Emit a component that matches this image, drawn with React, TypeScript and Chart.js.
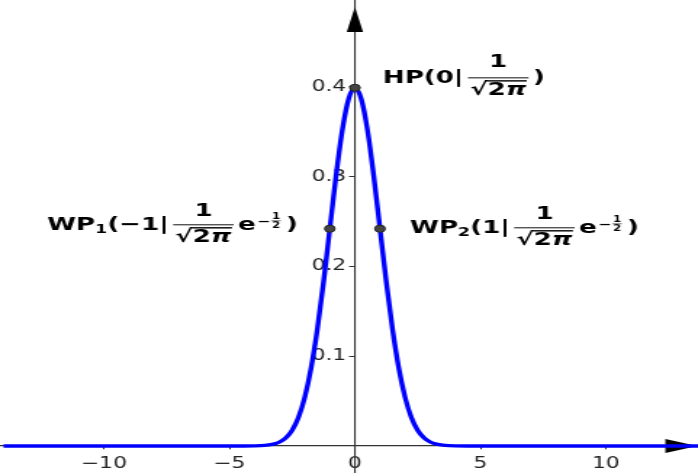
import React, { useEffect, useRef } from 'react';
import { Chart, registerables } from 'chart.js';

Chart.register(...registerables);

// ---- data ----
const curveX = [
  -14, -12, -10, -8, -6, -5, -4.5, -4, -3.75, -3.5, -3.25, -3, -2.75, -2.5, -2.25, -2, -1.75, -1.5, -1.25, -1,
  -0.75, -0.5, -0.25, 0, 0.25, 0.5, 0.75, 1, 1.25, 1.5, 1.75, 2, 2.25, 2.5, 2.75, 3, 3.25, 3.5, 3.75, 4, 4.5, 5,
  6, 8, 10, 12, 13.7,
];
const curveY = [
  0, 0, 0, 0, 0, 0, 0.000016, 0.00013, 0.00035, 0.00087, 0.00203, 0.00443, 0.00909, 0.01753, 0.03174, 0.05399,
  0.08628, 0.12952, 0.18265, 0.24197, 0.30114, 0.35207, 0.38667, 0.39894, 0.38667, 0.35207, 0.30114, 0.24197,
  0.18265, 0.12952, 0.08628, 0.05399, 0.03174, 0.01753, 0.00909, 0.00443, 0.00203, 0.00087, 0.00035, 0.00013,
  0.000016, 0, 0, 0, 0, 0, 0,
];
const markX = [0, -1, 1];
const markY = [0.39894, 0.24197, 0.24197];
const xTicks = [-10, -5, 0, 5, 10];
const yTicks = [0.1, 0.2, 0.3, 0.4];
const xRange = [-14.14, 13.67];
const yRange = [-0.0301, 0.4967];

const STRETCH = 1.45;
const OUT_W = 698;
const OUT_H = 473;
const IN_W = Math.round(OUT_W / STRETCH);

const FONT = '"DejaVu Sans", "Liberation Sans", sans-serif';

function drawLabel(
  ctx: CanvasRenderingContext2D,
  x0: number,
  base: number,
  head: string,
  sub: string | null,
  mid: string,
  exp: boolean,
  draw: boolean,
  numUp = 9
): number {
  let x = x0;
  ctx.textAlign = 'left';
  ctx.textBaseline = 'alphabetic';
  const put = (s: string, size: number, dy = 0, style = 'bold') => {
    ctx.font = `${style} ${size}px ${FONT}`;
    const w = ctx.measureText(s).width;
    if (draw) {
      ctx.fillStyle = '#000';
      ctx.fillText(s, x, base + dy);
    }
    x += w;
    return w;
  };
  put(head, 18);
  if (sub) put(sub, 12, 3);
  if (mid) put(mid, 18);
  x += 3;
  // fraction 1 / sqrt(2pi)
  ctx.font = `bold 18px ${FONT}`;
  const wRad = ctx.measureText('\u221A').width;
  const w2 = ctx.measureText('2').width;
  const wNum = ctx.measureText('1').width;
  ctx.font = `italic bold 18px ${FONT}`;
  const wPi = ctx.measureText('\u03C0').width;
  const w2p = w2 + wPi;
  const barW = wRad + w2p + 3;
  const barY = base - 5;
  if (draw) {
    ctx.fillStyle = '#000';
    ctx.font = `bold 18px ${FONT}`;
    ctx.fillText('1', x + (barW - wNum) / 2, barY - numUp);
    ctx.fillText('\u221A', x + 1.5, barY + 17);
    ctx.fillText('2', x + 1.5 + wRad, barY + 17);
    ctx.font = `italic bold 18px ${FONT}`;
    ctx.fillText('\u03C0', x + 1.5 + wRad + w2, barY + 17);
    ctx.fillRect(x + 1 + wRad, barY + 17 - 14.6, w2p + 0.8, 1.4);
    ctx.fillStyle = '#555';
    ctx.fillRect(x, barY - 0.7, barW, 1.4);
  }
  x += barW + 3;
  if (exp) {
    put('e', 18);
    x += 1;
    put('\u2212', 11, -4.5);
    x += 1;
    ctx.font = `bold 8px ${FONT}`;
    const wf = Math.max(ctx.measureText('1').width, ctx.measureText('2').width);
    if (draw) {
      ctx.fillStyle = '#000';
      ctx.fillText('1', x, base - 11);
      ctx.fillText('2', x, base - 2);
      ctx.fillStyle = '#555';
      ctx.fillRect(x - 0.5, base - 9.3, wf + 1, 0.8);
    }
    x += wf + 4;
  }
  put(')', 18);
  return x - x0;
}

const decor = {
  id: 'decor',
  beforeDatasetsDraw(chart: any) {
    const { ctx, chartArea, scales } = chart;
    const ax = scales.x.getPixelForValue(0);
    const ay = scales.y.getPixelForValue(0);
    ctx.save();
    ctx.fillStyle = '#000';
    // y arrow
    ctx.beginPath();
    ctx.moveTo(ax, chartArea.top + 7);
    ctx.lineTo(ax - 5.6, chartArea.top + 32);
    ctx.lineTo(ax + 5.6, chartArea.top + 32);
    ctx.closePath();
    ctx.fill();
    // x arrow
    const tip = chartArea.right - 0.5;
    ctx.beginPath();
    ctx.moveTo(tip, ay);
    ctx.lineTo(tip - 22, ay - 7);
    ctx.lineTo(tip - 22, ay + 7);
    ctx.closePath();
    ctx.fill();
    ctx.restore();
  },
  afterDatasetsDraw(chart: any) {
    const { ctx, scales } = chart;
    const px = (v: number) => scales.x.getPixelForValue(v);
    const py = (v: number) => scales.y.getPixelForValue(v);
    ctx.save();
    drawLabel(ctx, px(markX[0]) + 19.3, py(markY[0]) - 5, 'HP(0|', null, '', false, true, 11);
    const w1 = drawLabel(ctx, 0, 0, 'WP', '1', '(\u22121|', true, false);
    drawLabel(ctx, px(markX[1]) - 22 - w1, py(markY[1]) + 1, 'WP', '1', '(\u22121|', true, true, 8.5);
    drawLabel(ctx, px(markX[2]) + 20.7, py(markY[2]) + 4, 'WP', '2', '(1|', true, true, 8.5);
    ctx.restore();
  },
};

const noPad = (s: any) => {
  s.paddingLeft = 0;
  s.paddingRight = 0;
  s.paddingTop = 0;
  s.paddingBottom = 0;
};

export default function App() {
  const ref = useRef<HTMLCanvasElement | null>(null);

  useEffect(() => {
    document.body.style.margin = '0';
    const canvas = ref.current;
    if (!canvas) return;
    const chart = new Chart(canvas, {
      type: 'line',
      data: {
        datasets: [
          {
            label: 'points',
            data: markX.map((x, i) => ({ x, y: markY[i] })),
            showLine: false,
            pointRadius: 3.6,
            pointBackgroundColor: '#444',
            pointBorderColor: '#222',
            pointBorderWidth: 1,
          },
          {
            label: 'f',
            data: curveX.map((x, i) => ({ x, y: curveY[i] })),
            borderColor: '#0000ff',
            borderWidth: 3.4,
            pointRadius: 0,
            cubicInterpolationMode: 'monotone',
            fill: false,
          },
        ],
      },
      options: {
        animation: false,
        responsive: false,
        maintainAspectRatio: false,
        devicePixelRatio: 1,
        layout: { padding: 0, autoPadding: false },
        plugins: { legend: { display: false }, tooltip: { enabled: false } },
        events: [],
        scales: {
          x: {
            type: 'linear',
            min: xRange[0],
            max: xRange[1],
            position: { y: 0 } as any,
            afterBuildTicks: (s: any) => {
              s.ticks = xTicks.map((v) => ({ value: v }));
            },
            afterFit: noPad,
            grid: { display: true, drawOnChartArea: false, drawTicks: true, tickLength: 3, color: '#333', lineWidth: 1 },
            border: { display: true, color: '#333', width: 1.3 },
            ticks: {
              color: '#222',
              padding: 6,
              maxRotation: 0,
              autoSkip: false,
              font: { family: FONT, size: 15 },
              callback: (v: any) => (Number(v) < 0 ? '\u2212' + Math.abs(Number(v)) : String(v)),
            },
          },
          y: {
            type: 'linear',
            min: yRange[0],
            max: yRange[1],
            position: { x: 0 } as any,
            afterBuildTicks: (s: any) => {
              s.ticks = yTicks.map((v) => ({ value: v }));
            },
            afterFit: noPad,
            grid: { display: true, drawOnChartArea: false, drawTicks: true, tickLength: 3.5, color: '#333', lineWidth: 1 },
            border: { display: true, color: '#333', width: 1.1 },
            ticks: {
              color: '#222',
              padding: 6,
              autoSkip: false,
              font: { family: FONT, size: 15 },
              // trailing thin spaces keep the right-aligned labels clear of the axis
              callback: (v: any) => Number(v).toFixed(1) + '\u2009\u2009',
            },
          },
        },
      },
      plugins: [decor],
    });
    return () => chart.destroy();
  }, []);

  return (
    <canvas
      ref={ref}
      width={IN_W}
      height={OUT_H}
      style={{ width: OUT_W + 'px', height: OUT_H + 'px', display: 'block' }}
    />
  );
}
